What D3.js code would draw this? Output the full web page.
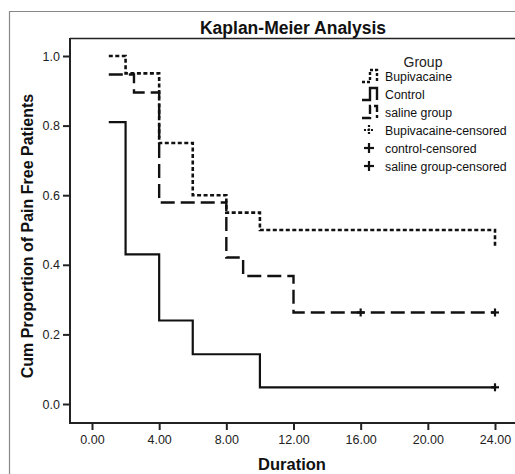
<!DOCTYPE html>
<html><head><meta charset="utf-8">
<script src="https://cdn.jsdelivr.net/npm/d3@7"></script>
<style>body{margin:0;background:#fff}svg{display:block;font-family:"Liberation Sans",Arial,sans-serif}</style>
</head><body><svg id="c" width="515" height="474"></svg>
<script>
// Data (time, cumulative proportion)
const bupivacaine = [[1,1.0],[2,1.0],[2,0.95],[4,0.95],[4,0.75],[6,0.75],[6,0.60],[8,0.60],[8,0.55],[10,0.55],[10,0.50],[24,0.50],[24,0.45]];
const control = [[1,0.81],[2,0.81],[2,0.43],[4,0.43],[4,0.24],[6,0.24],[6,0.143],[10,0.143],[10,0.048],[24,0.048]];
const saline = [[1,0.947],[2.5,0.947],[2.5,0.895],[4,0.895],[4,0.579],[8,0.579],[8,0.421],[9,0.421],[9,0.368],[12,0.368],[12,0.263],[24,0.263]];
const controlCensored = [[24,0.048]];
const salineCensored = [[16,0.263],[24,0.263]];
const xTicks = [0,4,8,12,16,20,24];
const yTicks = [0,0.2,0.4,0.6,0.8,1.0];
const legendLabels = ["Bupivacaine","Control","saline group","Bupivacaine-censored","control-censored","saline group-censored"];

const svg = d3.select("#c");
const x = d3.scaleLinear().domain([0,24]).range([92,495]);
const y = d3.scaleLinear().domain([0,1]).range([404,56]);

// outer frame
svg.append("path").attr("d","M9.5,474 V11.5 H515").attr("fill","none").attr("stroke","#888").attr("stroke-width",1.2);

// plot box top border
svg.append("line").attr("x1",70).attr("x2",515).attr("y1",38.5).attr("y2",38.5).attr("stroke","#222").attr("stroke-width",1.5);

// axes
const yAxis = d3.axisLeft(y).tickValues(yTicks).tickFormat(d3.format(".1f")).tickSize(7).tickPadding(3);
const gy = svg.append("g").attr("transform","translate(70,0)").call(yAxis);
gy.select(".domain").attr("d","M0,38V423").attr("stroke","#222").attr("stroke-width",2);
const xAxis = d3.axisBottom(x).tickValues(xTicks).tickFormat(d3.format(".2f")).tickSize(7).tickPadding(5);
const gx = svg.append("g").attr("transform","translate(0,423)").call(xAxis);
gx.select(".domain").attr("d","M69,0H515").attr("stroke","#222").attr("stroke-width",2);
[gx,gy].forEach(g=>{
  g.selectAll(".tick line").attr("stroke","#222").attr("stroke-width",2);
  g.selectAll(".tick text").attr("fill","#222").style("font-size","12.5px").style("font-family","Liberation Sans, Arial, sans-serif");
});

// titles
svg.append("text").attr("x",293).attr("y",34).attr("text-anchor","middle").attr("font-weight","bold").attr("font-size",17.5).attr("fill","#111").text("Kaplan-Meier Analysis");
svg.append("text").attr("x",292).attr("y",470).attr("text-anchor","middle").attr("font-weight","bold").attr("font-size",16.5).attr("fill","#111").text("Duration");
svg.append("text").attr("transform","translate(33,236) rotate(-90)").attr("text-anchor","middle").attr("font-weight","bold").attr("font-size",16).attr("fill","#111").text("Cum Proportion of Pain Free Patients");

const line = d3.line().x(d=>x(d[0])).y(d=>y(d[1]));
const styles = [
  {data:bupivacaine, dash:"4,2.5", w:2.6},
  {data:control, dash:null, w:2.2},
  {data:saline, dash:"14,6", w:2.4}
];
styles.forEach(s=>{
  const p = svg.append("path").datum(s.data).attr("d",line).attr("fill","none").attr("stroke","#111").attr("stroke-width",s.w);
  if(s.dash) p.attr("stroke-dasharray",s.dash);
});

// censor marks
const cross = (g,cx,cy,sz)=>{
  g.append("line").attr("x1",cx-sz).attr("x2",cx+sz).attr("y1",cy).attr("y2",cy).attr("stroke","#111").attr("stroke-width",2.2);
  g.append("line").attr("x1",cx).attr("x2",cx).attr("y1",cy-sz).attr("y2",cy+sz).attr("stroke","#111").attr("stroke-width",2.2);
};
const cg = svg.append("g");
controlCensored.concat(salineCensored).forEach(d=>cross(cg,x(d[0]),y(d[1]),4));

// legend
svg.append("text").attr("x",423).attr("y",67).attr("text-anchor","middle").attr("font-size",14).attr("fill","#222").text("Group");
const ly = [76,94,112,130,148,166];
const lg = svg.append("g");
legendLabels.forEach((t,i)=>{
  lg.append("text").attr("x",385).attr("y",ly[i]+4.5).attr("font-size",12.3).attr("fill","#111").text(t);
});
// legend symbols (step shapes)
const sym = (i,dash,w)=>{
  const yy=ly[i];
  const p = lg.append("path").attr("d",`M362,${yy+6}H370V${yy-6}H377V${yy+6}`).attr("fill","none").attr("stroke","#111").attr("stroke-width",w);
  if(dash) p.attr("stroke-dasharray",dash);
};
sym(0,"3,2",2.4); sym(1,null,2.4); sym(2,"9,3",2.4);
// censored symbols
const lc = (i,dash)=>{
  const yy=ly[i];
  const a=lg.append("line").attr("x1",364).attr("x2",374).attr("y1",yy).attr("y2",yy).attr("stroke","#111").attr("stroke-width",2.2);
  const b=lg.append("line").attr("x1",369).attr("x2",369).attr("y1",yy-5).attr("y2",yy+5).attr("stroke","#111").attr("stroke-width",2.2);
  if(dash){a.attr("stroke-dasharray",dash);b.attr("stroke-dasharray",dash);}
};
lc(3,"2,1.5"); lc(4,null); lc(5,null);
</script></body></html>
